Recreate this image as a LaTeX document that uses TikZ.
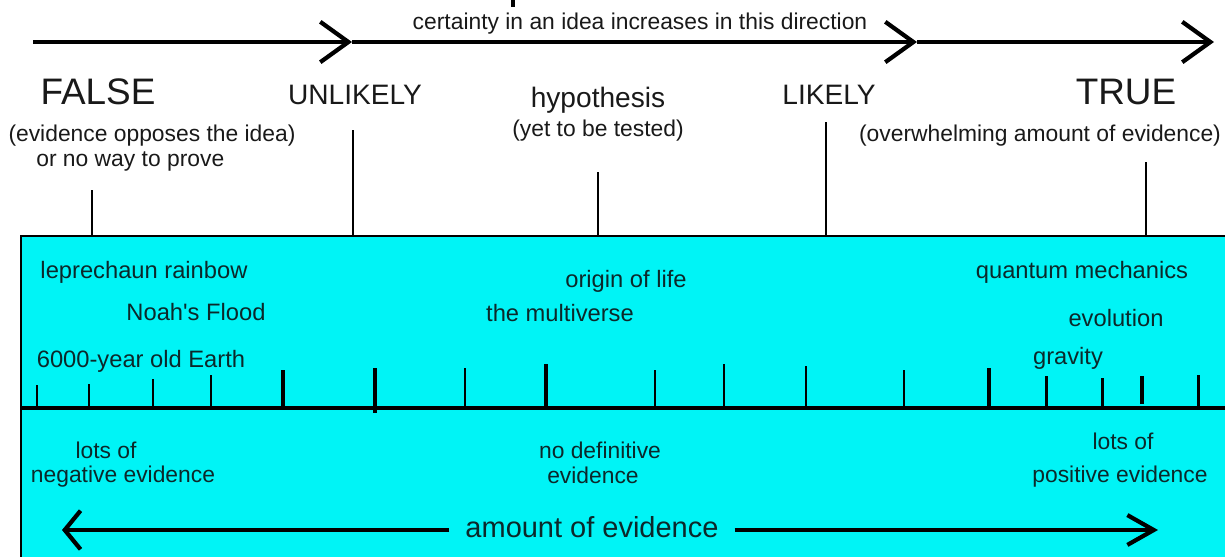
\documentclass[tikz,border=0pt]{standalone}
\usepackage{fontspec}
\setmainfont{Liberation Sans}
\usepackage{tikz}
\usetikzlibrary{arrows.meta,positioning,calc}

\definecolor{boxcyan}{RGB}{0,244,246}
\definecolor{boxtext}{RGB}{12,40,42}

\begin{document}
\begin{tikzpicture}[x=0.02cm, y=-0.02cm,
    txt/.style={anchor=base, inner sep=0pt, text=black!90},
    big/.style={txt, font=\fontsize{21}{24}\selectfont},
    mid/.style={txt, font=\fontsize{16}{19}\selectfont},
    note/.style={txt, font=\fontsize{13}{15}\selectfont},
    inbox/.style={txt, font=\fontsize{13.5}{16}\selectfont, text=boxtext},
    stem/.style={line width=1.6pt},
    topaxis/.style={line width=2.4pt, -{Straight Barb[length=16pt, width=23pt, line width=2.4pt]}},
    tick/.style={line width=1.7pt},
    thicktick/.style={line width=2.5pt}]
  \useasboundingbox (0,0) rectangle (1225,556);

  % certainty axis
  \draw[line width=2.6pt] (513,0) -- (513,7);
  \coordinate (axisStart) at (33,42);
  \coordinate (chevA) at (352,42);
  \coordinate (chevB) at (917,42);
  \coordinate (axisEnd) at (1214,42);
  \draw[topaxis] (axisStart) -- (chevA);
  \draw[topaxis] (chevA) -- (chevB);
  \draw[topaxis] (chevB) -- (axisEnd);
  \node[note] (certainty) at (640,29) {certainty in an idea increases in this direction};

  % categories
  \node[big] (false) at (98,104) {FALSE};
  \node[mid] (unlikely) at (355,104) {UNLIKELY};
  \node[mid] (hypo) at (598,107) {hypothesis};
  \node[mid] (likely) at (829,104) {LIKELY};
  \node[big] (true) at (1126,104) {TRUE};
  \node[note] (falseNote) at (152,141) {(evidence opposes the idea)};
  \node[note, anchor=base west] (falseNoteB) at (36,166) {or no way to prove};
  \node[note] (hypoNote) at (598,136) {(yet to be tested)};
  \node[note] (trueNote) at (1040,141) {(overwhelming amount of evidence)};

  % evidence box
  \draw[line width=1.6pt, fill=boxcyan] (21,236) rectangle (1232,562);
  \foreach \name/\x/\y in {false/92/190, unlikely/353/130, hypo/598/172,
                           likely/826/122, true/1146/162} {
    \coordinate (\name Top) at (\x,\y);
    \coordinate (\name Foot) at (\x,236);
    \draw[stem] (\name Top) -- (\name Foot);
  }

  % scale
  \draw[line width=2.6pt] (21,408) -- (1232,408);
  \foreach \x/\y in {37/385, 89/384, 153/379, 211/375, 465/368, 655/370,
                     724/364, 806/366, 904/370, 1046/376, 1102/378, 1198/375}
    \draw[tick] (\x,\y) -- (\x,408);
  \foreach \x/\y/\z in {283/370/410, 375/368/413, 546/364/408, 989/368/410, 1142/376/404}
    \draw[thicktick] (\x,\y) -- (\x,\z);

  % ideas
  \node[inbox] (leprechaun) at (144,278) {leprechaun rainbow};
  \node[inbox] (noah) at (196,320) {Noah\textquotesingle s Flood};
  \node[inbox] (earth) at (141,367) {6000-year old Earth};
  \node[inbox] (origin) at (626,287) {origin of life};
  \node[inbox] (multiverse) at (560,321) {the multiverse};
  \node[inbox] (quantum) at (1082,278) {quantum mechanics};
  \node[inbox] (evolution) at (1116,326) {evolution};
  \node[inbox] (gravity) at (1068,364) {gravity};

  % evidence levels
  \node[inbox, font=\fontsize{13}{15}\selectfont] (negA) at (106,458) {lots of};
  \node[inbox, font=\fontsize{13}{15}\selectfont] (negB) at (123,482) {negative evidence};
  \node[inbox, font=\fontsize{13}{15}\selectfont] (noneA) at (600,458) {no definitive};
  \node[inbox, font=\fontsize{13}{15}\selectfont] (noneB) at (593,483) {evidence};
  \node[inbox, font=\fontsize{13}{15}\selectfont] (posA) at (1123,449) {lots of};
  \node[inbox, font=\fontsize{13}{15}\selectfont] (posB) at (1120,482) {positive evidence};

  % amount of evidence
  \node[txt, font=\fontsize{16.5}{19}\selectfont, text=boxtext, inner xsep=9pt] (amount) at (592,537) {amount of evidence};
  \coordinate (leftTip) at (62,530);
  \coordinate (rightTip) at (1158,530);
  \draw[line width=2.4pt, -{Straight Barb[length=9pt, width=22pt, line width=2.4pt]}]
    (leftTip -| amount.west) -- (leftTip);
  \draw[line width=2.4pt, -{Straight Barb[length=15pt, width=17pt, line width=2.4pt]}]
    (rightTip -| amount.east) -- (rightTip);
\end{tikzpicture}
\end{document}
